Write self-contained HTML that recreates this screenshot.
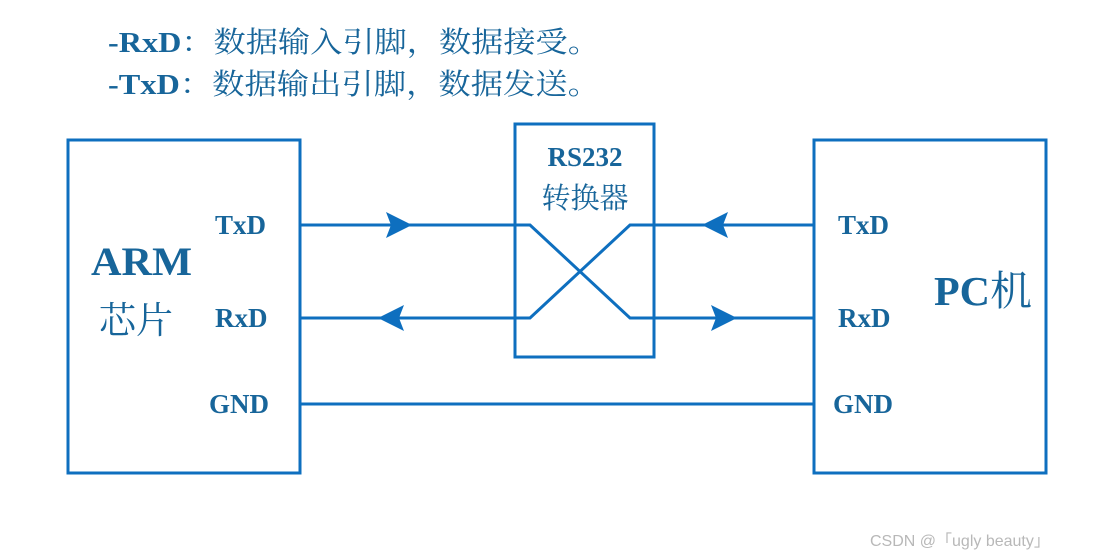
<!DOCTYPE html>
<html><head><meta charset="utf-8"><style>
html,body{margin:0;padding:0;background:#fff;}
svg{display:block}
.t{font-family:"Liberation Serif","Noto Serif CJK SC",serif;font-weight:bold;fill:#17659a}
.c{font-family:"Liberation Serif","Noto Serif CJK SC",serif;fill:#17659a}
</style></head><body>
<svg width="1093" height="556" viewBox="0 0 1093 556" xmlns="http://www.w3.org/2000/svg">
<text class="c" x="108" y="52" font-size="29" textLength="492" lengthAdjust="spacingAndGlyphs"><tspan font-weight="bold">-RxD</tspan>：数据输入引脚，数据接受。</text>
<text class="c" x="108" y="94" font-size="29" textLength="492" lengthAdjust="spacingAndGlyphs"><tspan font-weight="bold">-TxD</tspan>：数据输出引脚，数据发送。</text>
<g fill="none" stroke="#0e6fbf" stroke-width="3">
<rect x="68" y="140" width="232" height="333"/>
<rect x="515" y="124" width="139" height="233"/>
<rect x="814" y="140" width="232" height="333"/>
<polyline points="300,225 530,225 630,318 814,318"/>
<polyline points="300,318 530,318 630,225 814,225"/>
<line x1="300" y1="404" x2="814" y2="404"/>
</g>
<g fill="#0e6fbf">
<polygon points="386,212 412,225 386,238 391,225"/>
<polygon points="378,318 404,305 399,318 404,331"/>
<polygon points="702,225 728,212 723,225 728,238"/>
<polygon points="711,305 737,318 711,331 716,318"/>
</g>
<text class="t" x="585" y="166" font-size="27" text-anchor="middle">RS232</text>
<text class="c" x="585" y="208" font-size="29" text-anchor="middle">转换器</text>
<text class="t" x="215" y="234" font-size="27">TxD</text>
<text class="t" x="215" y="327" font-size="27">RxD</text>
<text class="t" x="209" y="413" font-size="27">GND</text>
<text class="t" x="838" y="234" font-size="27">TxD</text>
<text class="t" x="838" y="327" font-size="27">RxD</text>
<text class="t" x="833" y="413" font-size="27">GND</text>
<text class="t" x="91" y="275" font-size="40" textLength="101" lengthAdjust="spacingAndGlyphs">ARM</text>
<text class="c" x="99" y="333" font-size="37">芯片</text>
<text class="t" x="934" y="305" font-size="41" textLength="98" lengthAdjust="spacingAndGlyphs">PC<tspan font-weight="normal">机</tspan></text>
<text x="870" y="546" font-size="16" fill="#b8b8b8" font-family="Liberation Sans,Noto Sans CJK SC,sans-serif">CSDN @「ugly beauty」</text>
</svg>
</body></html>
